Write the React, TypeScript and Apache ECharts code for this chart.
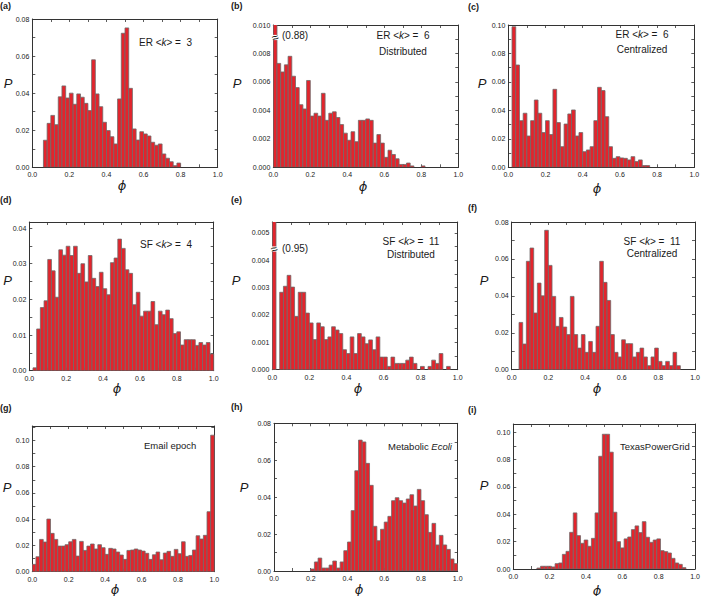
import React, { useEffect, useRef } from "react";
import * as echarts from "echarts";

// ---------- data (bin width 0.02, values = P per bin, first bin start given) ----------
const BIN = 0.02;
const X_MIN = 0;
const X_MAX = 1;
const X_STEP = 0.2;

const startA = 0.06;
const valuesA = [0.0146, 0.0237, 0.028, 0.023, 0.038, 0.0439, 0.0374, 0.04, 0.034, 0.0396, 0.0378, 0.0345, 0.0306, 0.058, 0.0396, 0.0327, 0.0243, 0.0198, 0.0165, 0.0126, 0.0369, 0.0723, 0.0752, 0.0426, 0.0207, 0.0147, 0.0192, 0.018, 0.0169, 0.0135, 0.0119, 0.0126, 0.0072, 0.0049, 0.003, 0.0009, 0.0023];

const startB = 0;
const valuesB = [0.88, 0.0073, 0.0067, 0.0072, 0.0078, 0.0064, 0.0056, 0.0044, 0.0041, 0.0061, 0.0036, 0.0038, 0.0036, 0.0052, 0.0033, 0.0038, 0.0039, 0.0035, 0.003, 0.0024, 0.0019, 0.0025, 0.0018, 0.0033, 0.0033, 0.0034, 0.0033, 0.0017, 0.0023, 0.0017, 0.0007, 0.0012, 0.0009, 0.0006, 0.0002, 0.0002, 0.0003, 0.0001, 0, 0, 0.0001];

const startC = 0.02;
const valuesC = [0.0988, 0.0719, 0.0328, 0.038, 0.022, 0.0328, 0.0473, 0.038, 0.0244, 0.0328, 0.023, 0.0548, 0.0314, 0.0145, 0.0304, 0.0375, 0.0403, 0.022, 0.0244, 0.011, 0.0122, 0.0145, 0.0328, 0.0562, 0.0539, 0.0356, 0.0145, 0.0063, 0.0075, 0.0066, 0.0063, 0.0052, 0.0075, 0.004, 0.0052, 0.0012, 0.0012];

const startD = 0.02;
const valuesD = [0.0008, 0.0117, 0.0177, 0.0196, 0.0312, 0.028, 0.0206, 0.0339, 0.0324, 0.0349, 0.0323, 0.0349, 0.0273, 0.03, 0.0249, 0.0323, 0.0259, 0.0236, 0.0276, 0.023, 0.0213, 0.0303, 0.0316, 0.0369, 0.0343, 0.0283, 0.0273, 0.0185, 0.022, 0.0153, 0.0167, 0.0167, 0.0194, 0.0129, 0.0167, 0.0157, 0.017, 0.0146, 0.0104, 0.0109, 0.0072, 0.0087, 0.0087, 0.0087, 0.0071, 0.0079, 0.0072, 0.0079, 0.0047];

const startE = 0;
const valuesE = [0.95, 0, 0.00283, 0.00305, 0.00345, 0.00302, 0.00195, 0.00283, 0.00283, 0.00207, 0.00171, 0.0011, 0.00171, 0.00157, 0.0011, 0.0012, 0.00157, 0.00145, 0.00132, 0.00073, 0.00059, 0.0012, 0.00059, 0.00132, 0.0012, 0.00095, 0.00109, 0.00073, 0.0012, 0.00046, 0.00046, 0.00012, 0.00046, 0.00023, 0.00023, 0.00023, 0.00035, 0.00046, 0.00023, 0, 0.00012, 0, 0.00012, 0.00035, 0.00023, 0.00059, 0, 0.00012];

const startF = 0.04;
const valuesF = [0.0256, 0.0139, 0.0587, 0.0659, 0.0307, 0.0469, 0.04, 0.0755, 0.0565, 0.0397, 0.0235, 0.0283, 0.0231, 0.019, 0.0397, 0.019, 0.0117, 0.019, 0.0094, 0.0153, 0.0094, 0.0235, 0.0587, 0.0473, 0.0375, 0.019, 0.0094, 0.0069, 0.0162, 0.0141, 0.0141, 0.0069, 0.0094, 0.0117, 0.0069, 0.0022, 0.0069, 0.0117, 0.0045, 0.0022, 0.0045, 0.0022, 0.0094, 0.0022];

const startG = 0;
const valuesG = [0.0056, 0.0114, 0.0246, 0.0226, 0.0401, 0.0292, 0.0246, 0.0195, 0.0195, 0.0206, 0.0228, 0.0246, 0.0119, 0.0231, 0.0162, 0.0195, 0.0211, 0.0173, 0.0206, 0.0183, 0.0132, 0.0178, 0.0173, 0.015, 0.0127, 0.0094, 0.0162, 0.0165, 0.0173, 0.0165, 0.0157, 0.014, 0.0094, 0.0129, 0.015, 0.0091, 0.0142, 0.0155, 0.0117, 0.017, 0.0137, 0.0228, 0.0117, 0.0124, 0.0165, 0.0274, 0.0249, 0.0277, 0.0457, 0.104];

const startH = 0.2;
const valuesH = [0.0011, 0.0049, 0.007, 0.0016, 0.0016, 0.0032, 0.0054, 0.0016, 0.0049, 0.011, 0.0157, 0.0327, 0.0543, 0.0709, 0.0699, 0.0583, 0.0464, 0.0242, 0.0164, 0.0226, 0.0265, 0.0296, 0.0381, 0.0397, 0.0381, 0.0368, 0.039, 0.0413, 0.0352, 0.0442, 0.0381, 0.0305, 0.0209, 0.0258, 0.0141, 0.0193, 0.0141, 0.0117, 0.0065, 0.004];

const startI = 0.13;
const valuesI = [0.0007, 0.002, 0.002, 0.002, 0.0015, 0.0039, 0.0044, 0.0107, 0.0129, 0.0268, 0.041, 0.0244, 0.0188, 0.0212, 0.0166, 0.0224, 0.041, 0.0824, 0.0985, 0.0985, 0.0854, 0.0415, 0.02, 0.0154, 0.022, 0.0234, 0.0288, 0.0315, 0.0266, 0.0346, 0.0232, 0.0195, 0.0212, 0.022, 0.0134, 0.0127, 0.0117, 0.0078, 0.0044, 0.0034, 0.001];

const starts = [startA, startB, startC, startD, startE, startF, startG, startH, startI];
const valuesAll = [valuesA, valuesB, valuesC, valuesD, valuesE, valuesF, valuesG, valuesH, valuesI];

// y axis ranges / tick steps / decimals per panel
const yMaxes = [0.08, 0.01, 0.1, 0.0417, 0.0054, 0.08, 0.111, 0.08, 0.106];
const ySteps = [0.02, 0.002, 0.02, 0.01, 0.001, 0.02, 0.02, 0.02, 0.02];
const yDecimals = [2, 3, 2, 2, 3, 2, 2, 2, 2];

const panelLabels = ["(a)", "(b)", "(c)", "(d)", "(e)", "(f)", "(g)", "(h)", "(i)"];
const noteLine1 = ["ER <k> =  3", "ER <k> =  6", "ER <k> =  6", "SF <k> =  4", "SF <k> =  11", "SF <k> =  11", "Email epoch", "Metabolic Ecoli", "TexasPowerGrid"];
const noteLine2 = ["", "Distributed", "Centralized", "", "Distributed", "Centralized", "", "", ""];
const brokenNotes = ["", "(0.88)", "", "", "(0.95)", "", "", "", ""];

// ---------- layout (pixels) ----------
const LAYOUT = [
  { left: 32.3, top: 19, width: 185.4, height: 148.3 },
  { left: 273.3, top: 25, width: 185, height: 142.3 },
  { left: 508.3, top: 25, width: 186, height: 142.3 },
  { left: 29.3, top: 222, width: 184.4, height: 148.7 },
  { left: 272.3, top: 222, width: 185.4, height: 147.7 },
  { left: 511.7, top: 222, width: 183.3, height: 147.7 },
  { left: 32.3, top: 426, width: 182, height: 145.7 },
  { left: 274, top: 423.3, width: 183.7, height: 147.7 },
  { left: 513.3, top: 424, width: 181.7, height: 145 },
];
const LABEL_POS = [[0, 5.5], [231, 5.5], [468, 7], [0, 200], [231, 200], [468, 208], [0, 408], [231, 407], [468, 410]];
const P_POS = [[8, 83], [237, 83], [482, 83], [7.5, 280], [236, 280], [484, 280], [7, 487], [244, 487], [484, 485]];
const PHI_POS = [[122, 185], [363, 186], [597, 188], [117, 388], [358, 388], [597, 388], [115, 589], [359, 589], [597, 590]];
// note: [x, y1, y2, align]
const NOTE_POS: [number, number, number, string][] = [
  [139, 42.5, 0, "left"],
  [403, 35, 51, "center"],
  [642, 34.7, 49.5, "center"],
  [140, 244.5, 0, "left"],
  [411, 241, 254.7, "center"],
  [652, 241.5, 253.5, "center"],
  [144, 445.5, 0, "left"],
  [388, 446, 0, "left"],
  [620, 446.5, 0, "left"],
];
const BREAK_POS = [null, [275.2, 37.5, 282, 35.5], null, null, [274.2, 249, 282, 248], null, null, null, null];

const FONT = '"Liberation Sans", Arial, Helvetica, sans-serif';
const AXIS_COLOR = "#333";
const TEXT_COLOR = "#1a1a1a";
const BAR_FILL = "#e3242c";
const BAR_STROKE = "#6e6a6a";

function richNote(s: string) {
  if (s.includes("<k>")) {
    const [a, b] = s.split("k");
    return `{n|${a}}{i|k}{n|${b}}`;
  }
  if (s.startsWith("Metabolic")) return "{n|Metabolic }{i|Ecoli}";
  return `{n|${s}}`;
}

function buildOption() {
  const grid: any[] = [];
  const xAxis: any[] = [];
  const yAxis: any[] = [];
  const series: any[] = [];
  const graphic: any[] = [];

  const lineStyle = { color: AXIS_COLOR, width: 1 };
  const tickStyle = { color: AXIS_COLOR, width: 0.8 };

  for (let i = 0; i < 9; i++) {
    const L = LAYOUT[i];
    grid.push({ left: L.left, top: L.top, width: L.width, height: L.height, outerBoundsMode: "none", containLabel: false });

    const xBase = {
      gridIndex: i,
      type: "value",
      min: X_MIN,
      max: X_MAX,
      interval: X_STEP,
      axisLine: { show: true, onZero: false, lineStyle },
      axisTick: { show: true, inside: true, length: 3, lineStyle: tickStyle },
      minorTick: { show: true, splitNumber: 2, length: 3, lineStyle: tickStyle },
      splitLine: { show: false },
      minorSplitLine: { show: false },
    };
    xAxis.push({
      ...xBase,
      position: "bottom",
      axisLabel: { show: true, fontSize: 7, fontFamily: FONT, color: TEXT_COLOR, margin: 4, formatter: (v: number) => v.toFixed(1) },
    });
    xAxis.push({ ...xBase, position: "top", axisLabel: { show: false } });

    const yMax = yMaxes[i];
    const step = ySteps[i];
    const isMultiple = Math.abs(yMax / step - Math.round(yMax / step)) < 1e-6;
    const dec = yDecimals[i];
    const yBase = {
      gridIndex: i,
      type: "value",
      min: 0,
      max: yMax,
      interval: step,
      axisLine: { show: true, onZero: false, lineStyle },
      axisTick: { show: true, inside: true, length: 3, lineStyle: tickStyle },
      minorTick: { show: true, splitNumber: 2, length: 3, lineStyle: tickStyle },
      splitLine: { show: false },
      minorSplitLine: { show: false },
    };
    yAxis.push({
      ...yBase,
      position: "left",
      axisLabel: {
        show: true,
        fontSize: 7,
        fontFamily: FONT,
        color: TEXT_COLOR,
        margin: 3,
        showMaxLabel: isMultiple,
        formatter: (v: number) => v.toFixed(dec),
      },
    });
    yAxis.push({ ...yBase, position: "right", axisLabel: { show: false } });

    const data = valuesAll[i].map((v, k) => [+(starts[i] + k * BIN).toFixed(3), v]);
    series.push({
      type: "custom",
      xAxisIndex: 2 * i,
      yAxisIndex: 2 * i,
      clip: true,
      encode: { x: 0, y: 1 },
      data,
      renderItem: (params: any, api: any) => {
        const x0 = api.value(0) as number;
        const v = api.value(1) as number;
        if (!(v > 0)) return null;
        const tl = api.coord([x0, v]);
        const br = api.coord([x0 + BIN, 0]);
        return {
          type: "rect",
          shape: { x: tl[0], y: tl[1], width: br[0] - tl[0], height: br[1] - tl[1] },
          style: { fill: BAR_FILL, stroke: BAR_STROKE, lineWidth: 0.8 },
        };
      },
    });

    // panel label
    graphic.push({
      type: "text",
      x: LABEL_POS[i][0],
      y: LABEL_POS[i][1],
      z: 100,
      style: { text: panelLabels[i], fontSize: 9, fontWeight: "bold", fontFamily: FONT, fill: TEXT_COLOR, align: "left", verticalAlign: "middle" },
    });
    // P
    graphic.push({
      type: "text",
      x: P_POS[i][0],
      y: P_POS[i][1],
      z: 100,
      style: { text: "P", fontSize: 13, fontStyle: "italic", fontFamily: FONT, fill: TEXT_COLOR, align: "center", verticalAlign: "middle" },
    });
    // phi
    graphic.push({
      type: "text",
      x: PHI_POS[i][0],
      y: PHI_POS[i][1],
      z: 100,
      style: { text: "ϕ", fontSize: 13, fontStyle: "italic", fontFamily: '"DejaVu Sans", ' + FONT, fill: TEXT_COLOR, align: "center", verticalAlign: "middle" },
    });
    // notes
    const fs = i >= 6 ? 9.5 : 10;
    const rich = {
      n: { fontSize: fs, fontFamily: FONT, fill: TEXT_COLOR },
      i: { fontSize: fs, fontFamily: FONT, fontStyle: "italic", fill: TEXT_COLOR },
    };
    const np = NOTE_POS[i];
    graphic.push({
      type: "text",
      x: np[0],
      y: np[1],
      z: 100,
      style: { text: richNote(noteLine1[i]), rich, align: np[3], verticalAlign: "middle" },
    });
    if (noteLine2[i]) {
      graphic.push({
        type: "text",
        x: np[0],
        y: np[2],
        z: 100,
        style: { text: noteLine2[i], fontSize: fs, fontFamily: FONT, fill: TEXT_COLOR, align: np[3], verticalAlign: "middle" },
      });
    }
    const bp = BREAK_POS[i];
    if (bp) {
      graphic.push({
        type: "rect",
        z: 100,
        shape: { x: bp[0] - 3.8, y: bp[1] - 2.6, width: 7.6, height: 5.2 },
        style: { fill: "#ffffff" },
      });
      graphic.push({
        type: "text",
        x: bp[0],
        y: bp[1],
        z: 101,
        rotation: 0.35,
        style: { text: "≈", fontSize: 12, fontFamily: FONT, fill: TEXT_COLOR, align: "center", verticalAlign: "middle" },
      });
      graphic.push({
        type: "text",
        x: bp[2],
        y: bp[3],
        z: 101,
        style: { text: brokenNotes[i], fontSize: 10, fontFamily: FONT, fill: TEXT_COLOR, align: "left", verticalAlign: "middle" },
      });
    }
  }

  return {
    animation: false,
    backgroundColor: "#ffffff",
    grid,
    xAxis,
    yAxis,
    series,
    graphic,
  };
}

export default function App() {
  const ref = useRef<HTMLDivElement>(null);
  useEffect(() => {
    if (!ref.current) return;
    const chart = echarts.init(ref.current, undefined, { renderer: "svg" });
    chart.setOption(buildOption() as any);
    return () => chart.dispose();
  }, []);
  return (
    <div
      ref={ref}
      style={{ position: "fixed", left: 0, top: 0, width: 702, height: 596, background: "#fff" }}
    />
  );
}
